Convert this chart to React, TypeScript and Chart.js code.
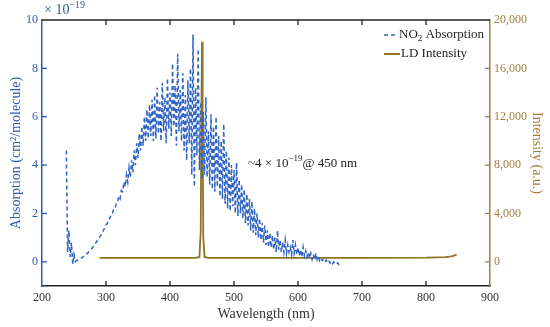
import React, { useEffect, useRef } from "react";
import { Chart, registerables } from "chart.js";

Chart.register(...registerables);

// ---------- data ----------
const NO2_START_NM = 238;
const NO2_STEP_NM = 2;
const no2Absorption = [
  4.6, 0.4, 1.3, 0.2, 0.8, -0.1, 0.3, 0.0, 0.05, 0.08,
  0.1, 0.13, 0.16, 0.2, 0.24, 0.28, 0.33, 0.38, 0.44, 0.5,
  0.56, 0.63, 0.7, 0.78, 0.86, 0.94, 1.02, 1.1, 1.2, 1.3,
  1.4, 1.52, 1.58, 1.72, 1.8, 1.95, 2.0, 2.18, 2.2, 2.4,
  2.45, 2.7, 2.6, 2.95, 2.9, 3.3, 3.1, 3.6, 3.3, 3.9,
  3.5, 4.2, 3.7, 4.6, 4.0, 4.9, 4.3, 5.3, 4.6, 5.6,
  4.8, 6.0, 5.0, 6.3, 5.1, 6.5, 5.2, 6.7, 5.0, 6.9,
  5.1, 7.2, 5.3, 6.6, 5.0, 7.4, 5.4, 6.8, 4.9, 7.6,
  5.5, 7.0, 5.2, 8.2, 5.6, 7.3, 4.8, 8.6, 5.4, 7.1,
  5.0, 7.8, 4.6, 6.9, 4.2, 7.5, 4.9, 8.0, 3.6, 9.4,
  3.1, 7.2, 4.4, 8.8, 3.8, 6.6, 3.4, 6.2, 3.6, 6.8,
  3.5, 5.4, 3.2, 6.1, 3.0, 5.6, 2.9, 6.0, 3.1, 5.2,
  2.7, 5.0, 2.6, 5.7, 2.4, 4.6, 2.2, 4.3, 2.1, 4.0,
  2.3, 3.8, 2.0, 4.1, 1.9, 3.4, 2.0, 3.2, 1.8, 3.0,
  1.6, 2.8, 1.5, 2.6, 1.3, 2.5, 1.2, 2.2, 1.1, 2.0,
  1.0, 1.8, 0.9, 1.6, 0.8, 1.5, 0.7, 1.3, 0.6, 1.2,
  0.6, 1.1, 0.5, 1.0, 0.4, 1.3, 0.5, 0.9, 0.4, 0.8,
  0.4, 0.9, 0.35, 0.7, 0.4, 0.6, 0.3, 0.9, 0.35, 0.7,
  0.3, 0.6, 0.25, 0.5, 0.2, 0.6, 0.25, 0.45, 0.2, 0.4,
  0.15, 0.35, 0.1, 0.3, 0.1, 0.35, 0.08, 0.2, 0.05, 0.15,
  0.05, 0.1, 0.0, 0.08, -0.02, 0.05, -0.05, 0.02, -0.08, 0.0,
  -0.06, -0.1, -0.04, -0.12, -0.08, -0.1,
];
const no2Wavelength = no2Absorption.map((_, i) => NO2_START_NM + i * NO2_STEP_NM);

const ldWavelength = [290, 350, 400, 440, 446, 448, 449, 450, 451, 452, 454, 460, 500, 600, 700, 800, 830, 840, 848];
const ldIntensity = [330, 320, 330, 330, 400, 2500, 12000, 18200, 11000, 2000, 400, 330, 320, 320, 330, 340, 380, 450, 600];

const xTicks = [200, 300, 400, 500, 600, 700, 800, 900];
const yTicks = [0, 2, 4, 6, 8, 10];
const y2Ticks = [0, 4000, 8000, 12000, 16000, 20000];

const BLUE = "#2c5cb0";
const LINE_BLUE = "#2e63c6";
const BROWN = "#a47d3e";
const LD_COLOR = "#8f7424";
const SERIF = "\"Liberation Serif\", \"Times New Roman\", Times, serif";

type Part = { t: string; sup?: boolean; sub?: boolean };

function drawRich(ctx: CanvasRenderingContext2D, parts: Part[], x: number, y: number, size: number, color: string) {
  ctx.save();
  ctx.fillStyle = color;
  ctx.textBaseline = "middle";
  ctx.textAlign = "left";
  let cx = x;
  for (const p of parts) {
    const small = p.sup || p.sub;
    const s = small ? Math.round(size * 0.68) : size;
    ctx.font = `${s}px ${SERIF}`;
    const dy = p.sup ? -size * 0.33 : p.sub ? size * 0.3 : 0;
    ctx.fillText(p.t, cx, y + dy);
    cx += ctx.measureText(p.t).width;
  }
  ctx.restore();
}

const decorPlugin = {
  id: "decor",
  afterDraw(chart: any) {
    const { ctx, chartArea } = chart;
    const { left, right, top, bottom } = chartArea;
    const xs = chart.scales.x;
    const ys = chart.scales.y;
    const y2s = chart.scales.y2;
    ctx.save();
    ctx.strokeStyle = "#222";
    ctx.lineWidth = 1.5;
    ctx.beginPath();
    ctx.moveTo(left, top);
    ctx.lineTo(right, top);
    ctx.stroke();
    const TL = 5;
    ctx.lineWidth = 1.3;
    ctx.strokeStyle = "#222";
    for (const t of xs.ticks) {
      const px = xs.getPixelForValue(t.value);
      if (px <= left + 1 || px >= right - 1) continue;
      ctx.beginPath();
      ctx.moveTo(px, bottom);
      ctx.lineTo(px, bottom - TL);
      ctx.moveTo(px, top);
      ctx.lineTo(px, top + TL);
      ctx.stroke();
    }
    ctx.strokeStyle = BLUE;
    for (const t of ys.ticks) {
      const py = ys.getPixelForValue(t.value);
      if (py <= top + 1) continue;
      ctx.beginPath();
      ctx.moveTo(left, py);
      ctx.lineTo(left + TL, py);
      ctx.stroke();
    }
    ctx.strokeStyle = BROWN;
    for (const t of y2s.ticks) {
      const py = y2s.getPixelForValue(t.value);
      if (py <= top + 1) continue;
      ctx.beginPath();
      ctx.moveTo(right, py);
      ctx.lineTo(right - TL, py);
      ctx.stroke();
    }
    ctx.restore();

    drawRich(ctx, [{ t: "× 10" }, { t: "−19", sup: true }], left + 2, top - 10, 14, BLUE);

    const ax = xs.getPixelForValue(522);
    const ay = ys.getPixelForValue(4.08);
    drawRich(ctx, [{ t: "~4 × 10" }, { t: "−19", sup: true }, { t: "@ 450 nm" }], ax, ay, 13, "#222");

    const ds = chart.data.datasets;
    const lx = right - 106;
    const ly1 = top + 15;
    const ly2 = top + 34;
    ctx.save();
    ctx.lineWidth = 1.5;
    ctx.strokeStyle = ds[0].borderColor;
    ctx.setLineDash([4, 3]);
    ctx.beginPath();
    ctx.moveTo(lx, ly1);
    ctx.lineTo(lx + 14, ly1);
    ctx.stroke();
    ctx.setLineDash([]);
    ctx.strokeStyle = ds[1].borderColor;
    ctx.lineWidth = 2;
    ctx.beginPath();
    ctx.moveTo(lx, ly2);
    ctx.lineTo(lx + 16, ly2);
    ctx.stroke();
    ctx.restore();
    drawRich(ctx, [{ t: "NO" }, { t: "2", sub: true }, { t: " Absorption" }], lx + 15, ly1, 13, "#222");
    drawRich(ctx, [{ t: ds[1].label }], lx + 17, ly2, 13, "#222");
  },
};

export default function App() {
  const ref = useRef<HTMLCanvasElement | null>(null);
  useEffect(() => {
    if (!ref.current) return;
    const chart = new Chart(ref.current, {
      type: "line",
      data: {
        datasets: [
          {
            label: "NO₂ Absorption",
            data: no2Wavelength.map((w, i) => ({ x: w, y: no2Absorption[i] })),
            borderColor: LINE_BLUE,
            borderWidth: 1.5,
            borderDash: [4, 3],
            pointRadius: 0,
            tension: 0,
            yAxisID: "y",
          },
          {
            label: "LD Intensity",
            data: ldWavelength.map((w, i) => ({ x: w, y: ldIntensity[i] })),
            borderColor: LD_COLOR,
            borderWidth: 1.8,
            pointRadius: 0,
            tension: 0,
            yAxisID: "y2",
          },
        ],
      },
      plugins: [decorPlugin],
      options: {
        animation: false,
        responsive: false,
        maintainAspectRatio: false,
        layout: { padding: { top: 20, left: 0, right: 0, bottom: 0 } },
        plugins: { legend: { display: false }, tooltip: { enabled: false } },
        scales: {
          x: {
            type: "linear",
            min: 200,
            max: 900,
            afterFit: (s: any) => { s.height = 41; },
            afterBuildTicks: (s: any) => { s.ticks = xTicks.map((v) => ({ value: v })); },
            grid: { display: false, drawTicks: false },
            border: { display: true, color: "#222", width: 1.5 },
            ticks: { color: "#333", padding: 5, font: { family: SERIF, size: 12 }, maxRotation: 0 },
            title: { display: true, text: "Wavelength (nm)", color: "#333", padding: { top: 0, bottom: 4 }, font: { family: SERIF, size: 14 } },
          },
          y: {
            type: "linear",
            position: "left",
            min: -1,
            max: 10,
            afterFit: (s: any) => { s.width = 42; },
            afterBuildTicks: (s: any) => { s.ticks = yTicks.map((v) => ({ value: v })); },
            grid: { display: false, drawTicks: false },
            border: { display: true, color: BLUE, width: 1.5 },
            ticks: { color: BLUE, padding: 4, font: { family: SERIF, size: 12 } },
            title: { display: true, text: "Absorption (cm²/molecule)", color: BLUE, padding: { top: 8, bottom: 0 }, font: { family: SERIF, size: 14 } },
          },
          y2: {
            type: "linear",
            position: "right",
            min: -2000,
            max: 20000,
            afterFit: (s: any) => { s.width = 60; },
            afterBuildTicks: (s: any) => { s.ticks = y2Ticks.map((v) => ({ value: v })); },
            grid: { display: false, drawTicks: false },
            border: { display: true, color: BROWN, width: 1.5 },
            ticks: { color: BROWN, padding: 4, font: { family: SERIF, size: 12 }, callback: (v: any) => Number(v).toLocaleString("en-US") },
            title: { display: true, text: "Intensity (a.u.)", color: BROWN, padding: { top: 5, bottom: 0 }, font: { family: SERIF, size: 14 } },
          },
        },
      },
    } as any);
    return () => chart.destroy();
  }, []);
  return (
    <div style={{ position: "absolute", left: 0, top: 0, width: 550, height: 327, background: "#fff" }}>
      <canvas ref={ref} width={550} height={327} style={{ width: 550, height: 327, display: "block" }} />
    </div>
  );
}
